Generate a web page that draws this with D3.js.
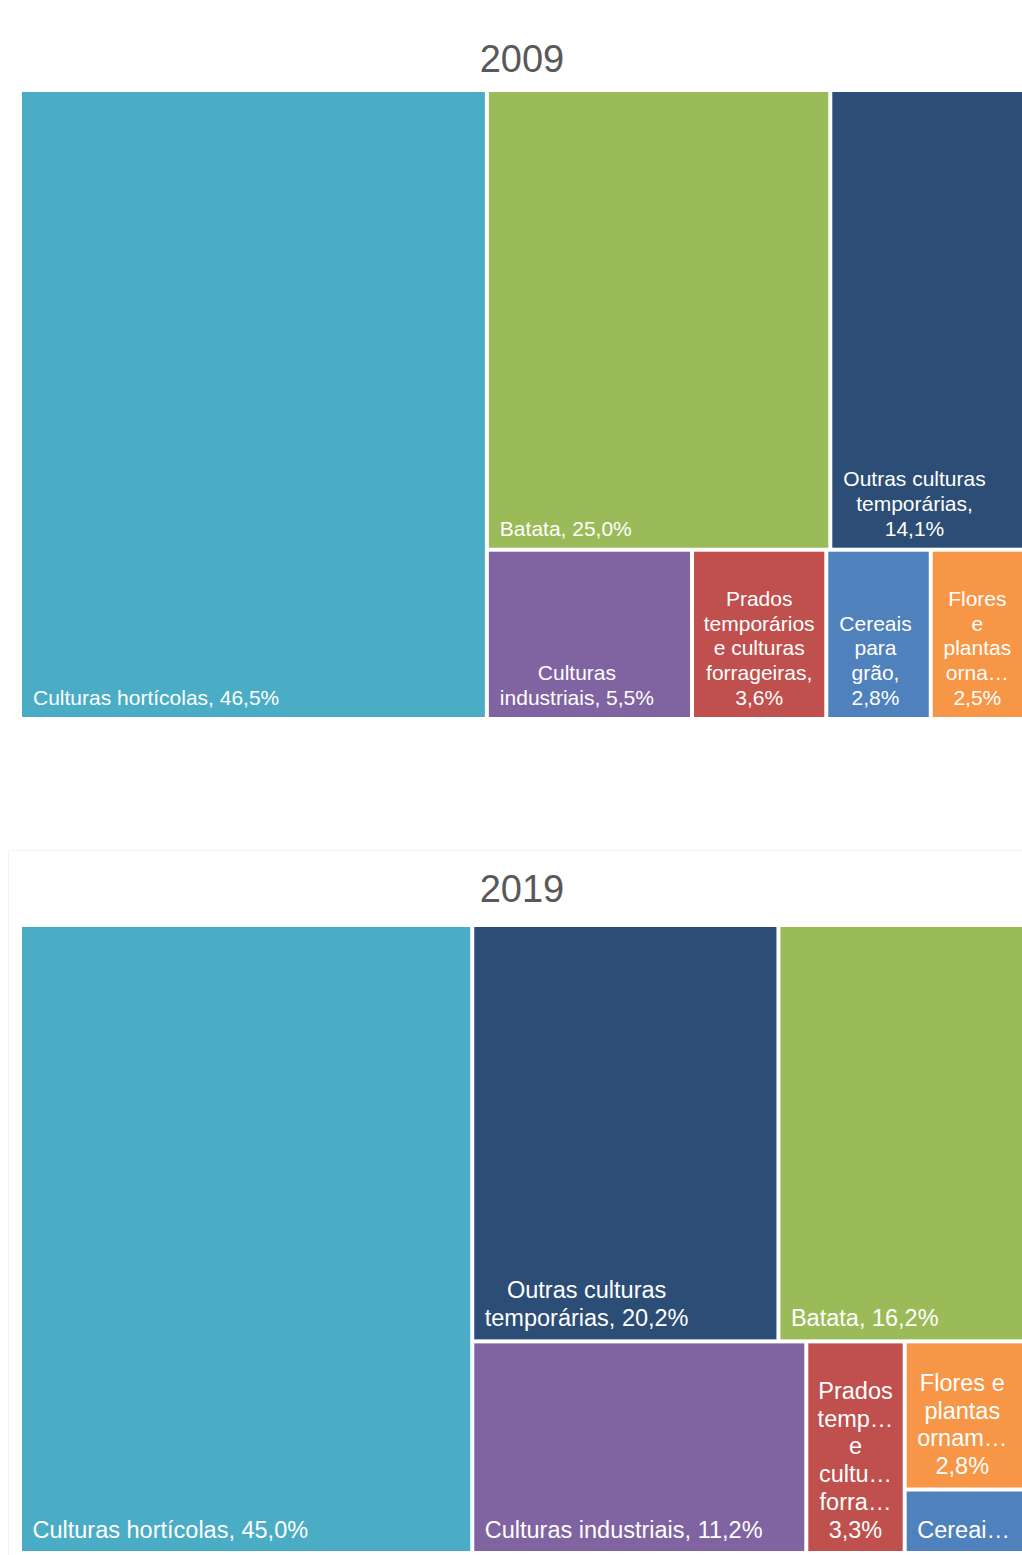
<!DOCTYPE html>
<html>
<head>
<meta charset="utf-8">
<script src="https://cdn.jsdelivr.net/npm/d3@7"></script>
<style>
  body { margin: 0; background: #fff; }
  svg { display: block; }
</style>
</head>
<body>
<div id="chart"></div>
<script>
var svgWidth = 1022;
var svgHeight = 1555;

// categories and values (percent of area)
var categories = [
  "Culturas hortícolas",
  "Batata",
  "Outras culturas temporárias",
  "Culturas industriais",
  "Prados temporários e culturas forrageiras",
  "Cereais para grão",
  "Flores e plantas ornamentais"
];
var values2009 = [46.5, 25.0, 14.1, 5.5, 3.6, 2.8, 2.5];
var values2019 = [45.0, 16.2, 20.2, 11.2, 3.3, 1.2, 2.8];
var colors = ["#4BACC6", "#9BBB59", "#2C4D75", "#8064A2", "#C0504D", "#4F81BD", "#F79646"];

// nesting of the tiles (category indexes), as in the source layout
var groups2009 = [0, [[1, 2], [3, 4, 5, 6]]];
var groups2019 = [0, [[2, 1], [3, 4, [6, 5]]]];

var pt = d3.formatLocale({decimal: ",", thousands: ".", grouping: [3], currency: ["", "€"]});
var fmt = pt.format(".1f");

var svg = d3.select("#chart")
  .append("svg")
  .attr("width", svgWidth)
  .attr("height", svgHeight);

// faint frame of the second panel
svg.append("rect")
  .attr("x", 8.5)
  .attr("y", 850.5)
  .attr("width", 1100)
  .attr("height", 1000)
  .attr("fill", "none")
  .attr("stroke", "#f3f3f3");

var fontFamily = "'Liberation Sans', Arial, sans-serif";

var measurer = svg.append("text")
  .attr("font-family", fontFamily)
  .attr("visibility", "hidden");

function textWidth(str, size) {
  measurer.attr("font-size", size + "px").text(str);
  return measurer.node().getComputedTextLength();
}

function clip(str, maxW, size) {
  var s = str;
  while (s.length > 0 && textWidth(s + "…", size) > maxW) s = s.slice(0, -1);
  return s + "…";
}

function wrapLabel(tokens, maxW, maxLines, size) {
  var lines = [];
  var cur = "";
  tokens.forEach(function(t) {
    var test = cur ? cur + " " + t : t;
    if (textWidth(test, size) <= maxW) {
      cur = test;
    } else {
      if (cur) lines.push(cur);
      if (textWidth(t, size) <= maxW) {
        cur = t;
      } else {
        lines.push(clip(t, maxW, size));
        cur = "";
      }
    }
  });
  if (cur) lines.push(cur);
  if (lines.length > maxLines) {
    lines = lines.slice(0, Math.max(maxLines, 1));
    var last = lines[lines.length - 1].replace(/…$/, "");
    lines[lines.length - 1] = clip(last, maxW, size);
  }
  return lines;
}

function buildNode(g, values) {
  if (Array.isArray(g)) {
    return {children: g.map(function(c) { return buildNode(c, values); })};
  }
  return {idx: g, name: categories[g], value: values[g]};
}

function drawTreemap(opts) {
  var root = d3.hierarchy(buildNode(opts.groups, opts.values))
    .sum(function(d) { return d.value; });

  d3.treemap()
    .tile(d3.treemapSliceDice)
    .size([opts.width, opts.height])
    .paddingInner(4)(root);

  var g = svg.append("g")
    .attr("transform", `translate(${opts.left}, ${opts.top})`);

  svg.append("text")
    .attr("x", opts.left + opts.width / 2)
    .attr("y", opts.titleY)
    .attr("text-anchor", "middle")
    .attr("font-family", fontFamily)
    .attr("font-size", "38px")
    .attr("fill", "#595959")
    .text(opts.title);

  var leaves = g.selectAll("g.leaf")
    .data(root.leaves())
    .enter()
    .append("g")
    .attr("class", "leaf");

  leaves.append("rect")
    .attr("x", d => d.x0)
    .attr("y", d => d.y0)
    .attr("width", d => d.x1 - d.x0)
    .attr("height", d => d.y1 - d.y0)
    .attr("fill", d => colors[d.data.idx]);

  var fs = opts.fontSize;
  var lh = fs * 1.18;

  leaves.each(function(d) {
    var w = d.x1 - d.x0;
    var h = d.y1 - d.y0;
    var words = d.data.name.split(" ");
    words[words.length - 1] += ",";
    words.push(fmt(d.data.value) + "%");
    var maxW = w - 2 * opts.padX;
    var maxLines = Math.floor((h - 2 * opts.padY) / lh);
    var lines = wrapLabel(words, maxW, maxLines, fs);
    var blockW = d3.max(lines, l => textWidth(l, fs));
    // centre the block in the tile when it fills it, else keep it at the left
    var left = Math.min(d.x0 + opts.indent, d.x0 + (w - blockW) / 2);
    var cx = left + blockW / 2;
    var lastY = d.y1 - fs * 0.57;

    d3.select(this).selectAll("text")
      .data(lines)
      .enter()
      .append("text")
      .attr("x", cx)
      .attr("y", (l, i) => lastY - (lines.length - 1 - i) * lh)
      .attr("text-anchor", "middle")
      .attr("font-family", fontFamily)
      .attr("font-size", fs + "px")
      .attr("fill", "#ffffff")
      .text(l => l);
  });
}

drawTreemap({
  title: "2009", titleY: 72,
  groups: groups2009, values: values2009,
  left: 22, top: 92, width: 1000, height: 625,
  fontSize: 21, padX: 9, padY: 8, indent: 11
});

drawTreemap({
  title: "2019", titleY: 902,
  groups: groups2019, values: values2019,
  left: 22, top: 927, width: 1000, height: 624,
  fontSize: 23.5, padX: 8, padY: 8, indent: 10.5
});

measurer.remove();
</script>
</body>
</html>
